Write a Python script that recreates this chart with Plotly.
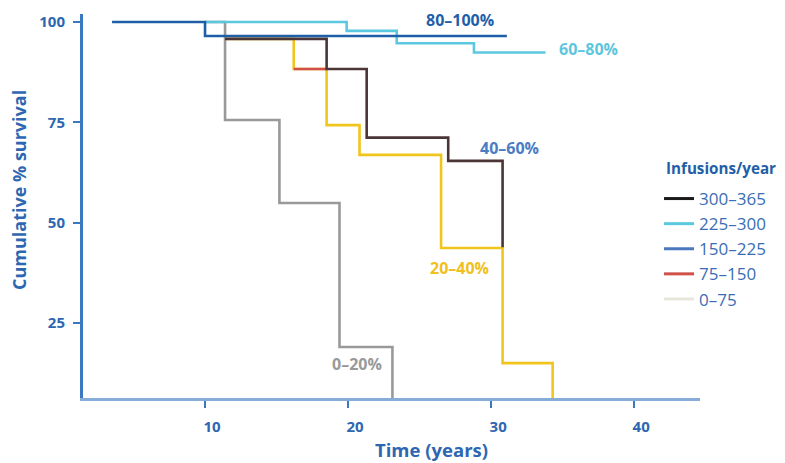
import plotly.graph_objects as go

# ---- data ----
# survival curves (step functions, 'hv')
t_80_100 = [3.5, 10.0, 31.1]
s_80_100 = [100, 96.5, 96.5]

t_60_80 = [10.0, 19.9, 23.4, 28.8, 33.8]
s_60_80 = [100, 97.8, 94.7, 92.4, 92.4]

t_40_60 = [11.4, 18.5, 21.3, 27.0, 30.8]
s_40_60 = [95.8, 88.3, 71.2, 65.4, 43.9]

t_red = [16.2, 18.5]
s_red = [88.3, 88.3]

t_20_40 = [11.4, 16.2, 18.5, 20.8, 26.5, 30.8, 34.3]
s_20_40 = [95.8, 88.3, 74.3, 66.9, 43.7, 15.0, 0]

t_0_20 = [10.0, 11.4, 15.2, 19.4, 23.1]
s_0_20 = [100, 75.6, 54.9, 19.0, 0]

legend_title = "Infusions/year"
legend_labels = ["300–365", "225–300", "150–225", "75–150", "0–75"]
legend_colors = ["#1a1a1a", "#5cc8e0", "#4a78be", "#d0504a", "#e8e6da"]

curve_labels = ["80–100%", "60–80%", "40–60%", "20–40%", "0–20%"]
label_t = [27.8, 36.8, 31.3, 27.8, 20.6]
label_s = [100.4, 93.3, 68.6, 38.7, 14.8]
label_colors = ["#1f5fa8", "#5cc6de", "#4a7cc4", "#f0c020", "#999999"]

x_title = "Time (years)"
y_title = "Cumulative % survival"
x_ticks = [10, 20, 30, 40]
y_ticks = [25, 50, 75, 100]

BLUE = "#2e67b1"
FONT = "Open Sans"

fig = go.Figure()

def curve(t, s, color, width=2.6):
    fig.add_trace(go.Scatter(x=t, y=s, mode="lines", line=dict(color=color, width=width, shape="hv"),
                             showlegend=False, hoverinfo="skip"))

curve(t_0_20, s_0_20, "#999999")
curve(t_20_40, s_20_40, "#f2c51c")
curve(t_red, s_red, "#d0504a")
curve(t_40_60, s_40_60, "#4b3536")
curve(t_60_80, s_60_80, "#5cc8e0")
curve(t_80_100, s_80_100, "#1f5fa8")

for i, (lab, col) in enumerate(zip(legend_labels, legend_colors)):
    fig.add_trace(go.Scatter(x=[None], y=[None], mode="lines", name=lab,
                             line=dict(color=col, width=3)))

for lab, tx, sy, col in zip(curve_labels, label_t, label_s, label_colors):
    fig.add_annotation(x=tx, y=sy, text="<b>%s</b>" % lab, showarrow=False, borderpad=0,
                       font=dict(family=FONT, size=16, color=col))

# legend title
fig.add_annotation(xref="paper", yref="paper", x=0.9417, y=0.600, xanchor="left", yanchor="middle",
                   text="<b>%s</b>" % legend_title, showarrow=False,
                   font=dict(family=FONT, size=15.2, color="#1f5fa8"))
# axis titles
fig.add_annotation(xref="paper", yref="paper", x=0.5656, y=-0.1354, xanchor="center", yanchor="middle",
                   text="<b>%s</b>" % x_title, showarrow=False,
                   font=dict(family=FONT, size=18.5, color=BLUE))
fig.add_annotation(xref="paper", yref="paper", x=-0.1037, y=0.5417, xanchor="center", yanchor="middle",
                   text="<b>%s</b>" % y_title, showarrow=False, textangle=-90,
                   font=dict(family=FONT, size=18, color=BLUE))

fig.update_layout(
    width=785, height=463,
    margin=dict(l=75, r=93, t=6, b=73),
    paper_bgcolor="white", plot_bgcolor="white",
    font=dict(family=FONT, color=BLUE),
    legend=dict(
        x=0.9336, y=0.5651, xanchor="left", yanchor="top",
        font=dict(family=FONT, size=17, color="#3a6db5"),
        itemwidth=30, tracegroupgap=0,
        bgcolor="rgba(0,0,0,0)",
    ),
    xaxis=dict(
        range=[1.47, 44.6], tickvals=x_ticks, ticks="outside", ticklen=7, tickwidth=2,
        tickcolor="#3a78c0", showline=True, linecolor="#86acd8", linewidth=3,
        showgrid=False, zeroline=False, ticklabelstandoff=6, ticklabelshift=7, automargin=False,
        tickfont=dict(family=FONT, size=15, color=BLUE, weight="bold"),
    ),
    yaxis=dict(
        range=[6.3, 102], tickvals=y_ticks, ticks="outside", ticklen=7, tickwidth=2,
        tickcolor="#3a78c0", showline=True, linecolor="#3a78c0", linewidth=3,
        showgrid=False, zeroline=False, automargin=False, ticklabelstandoff=5,
        tickfont=dict(family=FONT, size=15, color=BLUE, weight="bold"),
    ),
)

fig.write_html("out.html")
